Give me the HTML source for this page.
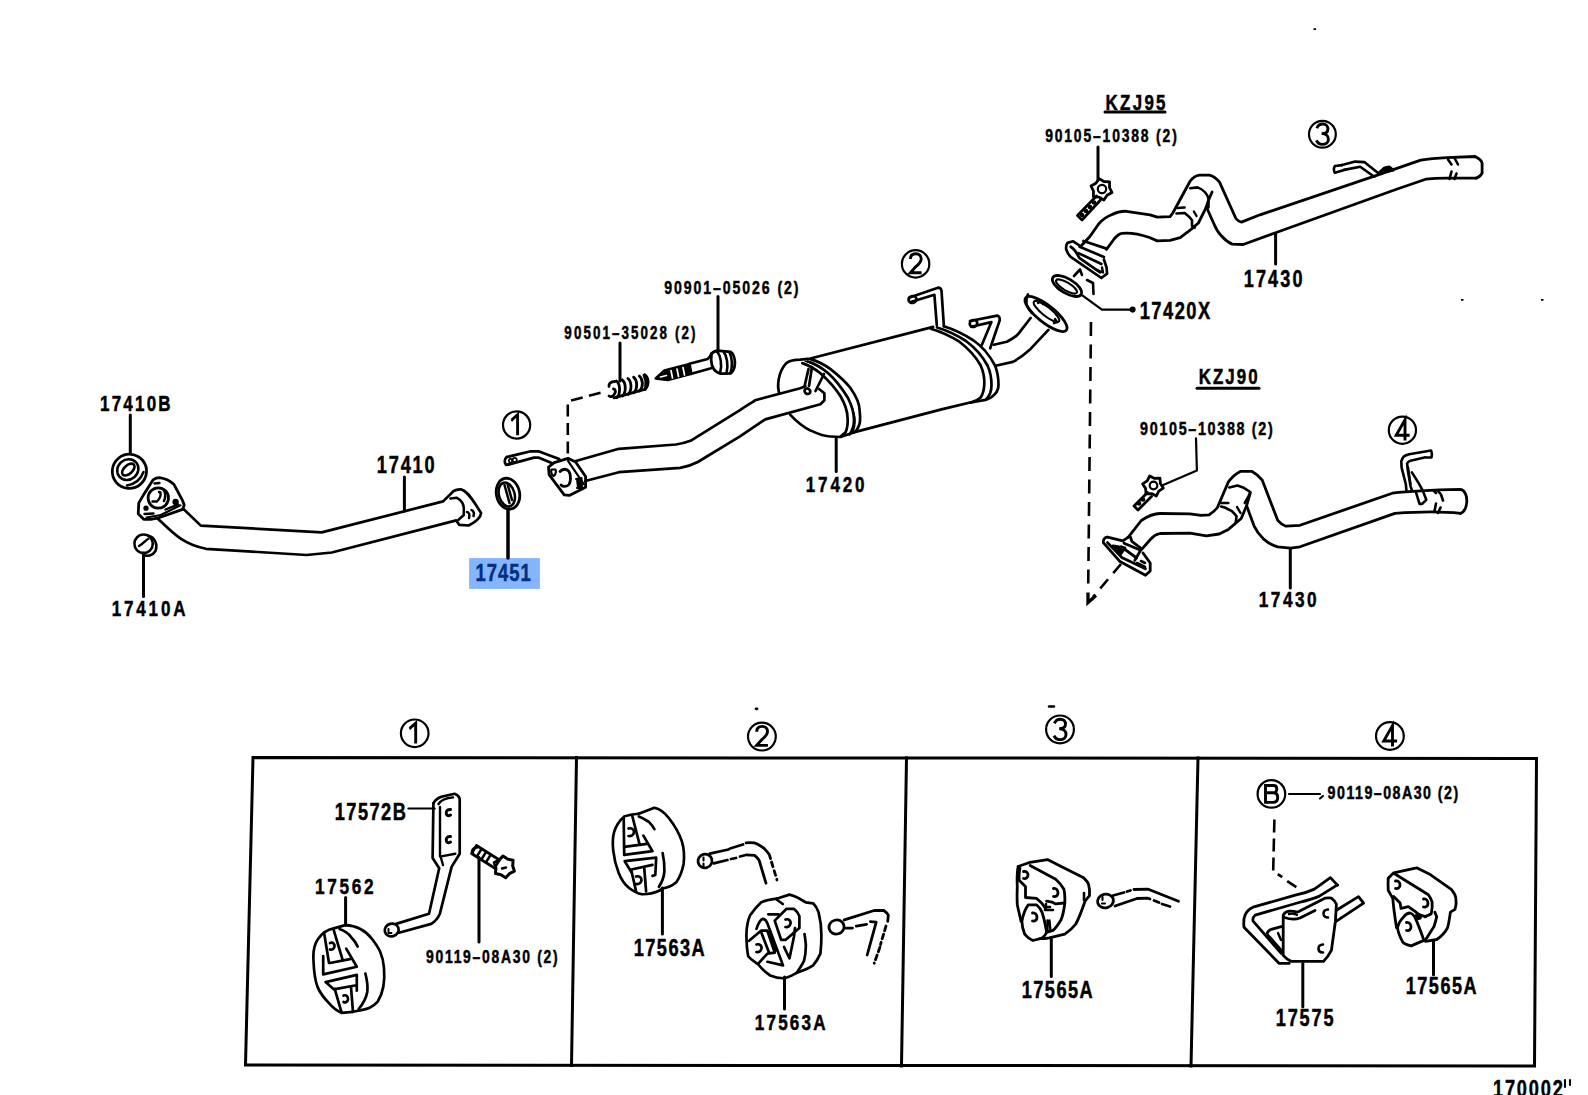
<!DOCTYPE html>
<html><head><meta charset="utf-8"><style>
html,body{margin:0;padding:0;background:#fff;overflow:hidden}
svg{display:block}
text{font-family:"Liberation Sans",sans-serif;font-weight:bold}
</style></head><body>
<svg width="1588" height="1095" viewBox="0 0 1588 1095">
<rect x="0" y="0" width="1588" height="1095" fill="#fff"/>
<rect x="469.1" y="558.1" width="70.8" height="30.8" fill="#85b5ff"/>
<g fill="none" stroke="#000" stroke-width="2.5" stroke-linejoin="round" stroke-linecap="round">
<!-- bottom box -->
<g stroke-width="3" stroke-linecap="square" stroke-linejoin="miter">
<path d="M253,757.5 L1536.5,758.5 L1534.5,1066 L245.5,1065 Z"/>
<path d="M576.5,757.5 L571.5,1065.5"/>
<path d="M906.5,758 L901.5,1066"/>
<path d="M1198,758 L1191,1066"/>
</g>
<!-- leaders -->
<g stroke-width="3">
<path d="M130.3,415 V453.5"/>
<path d="M404.4,477 V511"/>
<path d="M143.5,553 V596.5"/>
<path d="M508,509 V558" stroke-width="3.5"/>
<path d="M718,296.5 V352"/>
<path d="M620,343 V381"/>
<path d="M836.2,437.6 V471.5"/>
<path d="M1098,147 V180"/>
<path d="M1275.6,234 V264"/>
<path d="M1082.3,295.3 L1101.9,309.6 H1132.6" stroke-width="2.2"/>
<path d="M1196,438.4 L1196.9,470.5 L1162,485.6" stroke-width="2.2"/>
<path d="M1290.3,548.6 V588"/>
<path d="M408.4,808.5 H434.7" stroke-width="2.2"/>
<path d="M345.6,897.5 V925"/>
<path d="M479,857.6 V942"/>
<path d="M662.4,888 V934"/>
<path d="M784.5,977 V1009"/>
<path d="M1051.3,937.8 V976.6"/>
<path d="M1289,794 H1320" stroke-width="2.2"/>
<path d="M1302.8,963.6 V1006.8"/>
<path d="M1433.5,941.4 V974.7"/>
</g>
<circle cx="1132.6" cy="309.6" r="1.8" fill="#000"/>
<!-- underlines -->
<path d="M1105,112 H1165" stroke-width="3"/>
<path d="M1197,388.3 H1259" stroke-width="3"/>
<!-- dashed lines -->
<g stroke-width="2.6" stroke-linecap="butt">
<path d="M567.8,453.5 V401.4 L606.5,391.1" stroke-dasharray="12,6.5"/>
<path d="M1091,322 L1088.2,588" stroke-dasharray="14,8.5"/>
<path d="M1121,564 L1093,597" stroke-dasharray="12,8"/>
<path d="M1274.4,819.5 L1273.2,871 L1282.2,877.1 M1287.2,881.1 L1296.3,887.1" stroke-dasharray="13,6"/>
</g>
<path d="M1088,592.5 L1088,602.5 L1096,595.5" stroke-width="3.3" stroke-linejoin="miter" stroke-linecap="butt"/>

<!-- ===== washer 17410B ===== -->
<ellipse cx="129.4" cy="471.3" rx="17.2" ry="17" transform="rotate(-40 129.4 471.3)" stroke-width="2.8"/>
<ellipse cx="127.8" cy="469.6" rx="11" ry="10" transform="rotate(-40 127.8 469.6)"/>
<ellipse cx="128.3" cy="469.6" rx="7.5" ry="4.2" transform="rotate(-42 128.3 469.6)" stroke-width="2.6"/>
<path d="M127,485.5 C135,484 141,479 143.5,472"/>
<!-- flange 17410 -->
<path d="M159.6,477.7 C165,478.5 170,481 173.8,484.2 L182.6,500.7 L184.2,505 L182.6,509.4 L157.4,518.2 L150.8,519.3 L143.7,519.3 L138.2,513.8 L138.8,502.9 L143.7,494.6 L153,479.9 C155,478.5 157,477.7 159.6,477.7 Z" stroke-width="2.8"/>
<path d="M146.5,517.5 L160.7,515 L180.4,505.3" stroke-width="2.2"/>
<path d="M144.5,514 L153.5,513.5 M165.5,509.5 L178,504.5 M154.5,483.5 L159.5,483" stroke-width="2.4"/>
<circle cx="158.3" cy="498" r="10.2" stroke-width="2.8"/>
<path d="M163.5,489.5 C165.5,492 166,497 164,501" stroke-width="2.6"/>
<path d="M152.5,501.5 L157,501.5 C159.5,499 161,495.5 160.5,492.5 L159,492" stroke-width="2.4"/>
<circle cx="146" cy="508.2" r="1.9" fill="#000" stroke-width="1.5"/>
<circle cx="175.6" cy="502" r="2.4" fill="#000" stroke-width="1.5"/>
<!-- nut 17410A -->
<ellipse cx="143.6" cy="543.8" rx="9.2" ry="9.3" stroke-width="2.6"/>
<path d="M148,535.5 C155,537 158,545 155.5,551 C153,555 148,557 143.5,555"/>
<path d="M139,546 C143,544 146,540 148,539"/>
<!-- pipe 17410 -->
<path d="M183,508.5 L200.8,525.6 L321.7,532.4 L443.1,501.4 L453.4,491.2 C456,489.5 458,489.2 461,489.4 C466,490.5 470,496 476,505 L481.1,513.1 C480.5,518.5 475.5,522 468.7,525.5 L459.2,524.8 L456.3,520.4 L331.8,552.5 L306.6,555 L205.9,548.8 C182,544 172,532 157.4,518.2" stroke-width="2.7"/>
<path d="M450.5,498.5 L457,497.8 C460,499.5 463.6,503.5 463.8,508 L463.8,515 L458.5,519.7"/>
<path d="M467,512 c2,0 3,3 2,6 M471.5,510 c2,1 3,3 2,6"/>
<!-- ring 17451 -->
<ellipse cx="508" cy="493.7" rx="11.6" ry="15.6" transform="rotate(-12 508 493.7)" stroke-width="2.8"/>
<ellipse cx="506.8" cy="494.5" rx="7.8" ry="12.2" transform="rotate(-15 506.8 494.5)"/>
<path d="M504.5,485 L509.5,503 M507.5,484 L512,500"/>

<!-- ===== hanger ① rod on pipe 17420 ===== -->
<path d="M506.9,457 L530.9,451.3 L538.4,451.3 L559.2,458.9 M508.2,464.6 L534,457.6 L538.4,457.6 L552.3,463.3" stroke-width="2.7"/>
<path d="M506.9,457 C504.5,458.5 504,462.5 506,464.8 L508.2,464.6" stroke-width="2.7"/>
<ellipse cx="510.5" cy="460.8" rx="1.6" ry="2" stroke-width="1.8"/><ellipse cx="514.7" cy="460" rx="2" ry="2.2" stroke-width="1.8"/>
<!-- flange 17420 -->
<path d="M548.5,467.1 L554.2,462.7 L568,458.3 L575.6,462 L585.6,476.5 L585.6,487.2 L569.3,495.4 L564.2,494.8 L549.1,474.6 Z" stroke-width="2.8"/>
<path d="M568,460.8 L583.8,484.1" stroke-width="2.2"/>
<path d="M560,471.5 C562.5,468.5 567,468.5 569,471.5 C571,475 571,481.5 569,484.5 C567,487 563,487 561,485" stroke-width="2.8"/>
<path d="M551.5,469.5 C550.5,472 552,475.5 553.5,476 C555.5,475 556.5,471.5 555.5,469.5 Z" stroke-width="2.2"/>
<path d="M576,479 L581.5,478 L582,488 L577,488" fill="#000" stroke-width="2"/>
<!-- pipe 17420 front -->
<path d="M575,461.3 L618.9,448.8 L675.9,444.5 C683,443.5 686,442.5 690.5,440.8 L740,410.1 C746,406 752,402.5 755.1,400.3 L800.3,388.2 L805.4,386.2" stroke-width="2.7"/>
<path d="M585.3,481 L618.9,472.2 L680.2,467.8 C689,466.5 693,464.5 697.8,462 L740,436.4 L765.2,419.4 L820.4,404.3 L824.4,400.3 L824.4,393.2 L819.4,389.2" stroke-width="2.7"/>
<!-- spring 90501 -->
<g stroke-width="2.8">
<path d="M616.5,381.0 C620.3,384.0 620.8,393.8 616.8,397.8 M622.2,379.8 C626.0,382.8 626.5,392.1 622.5,396.1 M627.9,378.5 C631.7,381.5 632.2,390.4 628.2,394.4 M633.6,377.2 C637.4,380.2 637.9,388.7 633.9,392.7 M639.3,376.0 C643.1,379.0 643.6,387.0 639.6,391.0 M645.0,374.8 C648.8,377.8 649.3,385.3 645.3,389.3"/>
<path d="M615,381.5 C610.5,381.5 608.5,384 609,386.5 M613.5,389 C615,389 616,391 615,393 C613.5,396.5 611,397.5 609,396" />
<path d="M614,397.8 L645.5,389.2 L645.8,381 L644,375"/>
</g>
<!-- bolt 90901 -->
<path d="M655.6,378.5 L664.4,370.4 L689.5,363.8 L691.5,373.8 L667.9,380.1 Z" fill="#000" stroke-width="2.4"/>
<path d="M671,370.5 l1.5,7.5 M677,369 l1.5,7.5 M683,367.5 l1.5,7.5 M660.5,377 l6,-1.5" stroke="#fff" stroke-width="1.7"/>
<path d="M689.5,363.8 L707.6,359 C709.5,357.5 710.8,355.5 711.5,353.5 M691.5,373.8 L711.1,368.2" stroke-width="2.7"/>
<path d="M711.5,354 C713,351.5 716,350.5 720,350.8 L730.5,351.8 C733.5,353.5 735,359 734.9,363.5 C734.7,368.5 733.5,371.5 730.5,373.3 L721,373.6 C716.5,373 713.5,369.5 712,365.5 C711,361.5 711,357 711.5,354 Z" stroke-width="2.8"/>
<path d="M717,351.5 C720.5,355.5 722.5,364 720,373.3 M723.5,351.5 C727,356 728.5,365 726.5,373.5 M729.5,352.5 C732.5,358 732.5,367 730.5,373" stroke-width="2.6"/>

<!-- ===== muffler 17420 ===== -->
<g stroke-width="2.7">
<path d="M779.2,393.2 C777,386 778,372 786.3,363.1 C790,360.5 795,359.6 800.3,359.6 L810.4,358.5 L933.2,326.9"/>
<path d="M790.3,414.9 C797,422 805,428 810.4,430.4 C818,434 826,436.5 830.5,436.5 L840.5,437 L853.6,432.4 L941.5,409.4 L971.2,402.3"/>
<path d="M802.3,363.1 C808,365 815,369 820.4,373.2 C828,380 836,389 840.5,396.3 C845,404 847.6,412 847.6,418.4 C848,424 847,429 845.5,432.4 L840.5,436.5"/>
<path d="M808,361.5 C815,363.5 822,368 828,373 C836,380 843,390 848,398 C852,406 854,414 854,420 C854,426 852,431 849.5,434.5"/>
<path d="M810.4,359.1 C817,361 825,365 830.5,369.1 C838,375 845,381 850.6,388.2 C856,396 859.6,404 859.6,410.3 C860.5,418 860,424 858.6,426.4 C857,430 855,432 853.6,432.4"/>
<path d="M805,361 C812,363 819,367 825,371 C834,378 841,386 846,394 C851,403 854,411 855,418 C855.5,425 854,430 852,433" stroke-width="1.4"/>
<path d="M808.5,369 L804.5,386.5 M812,367 L809,386" />
<path d="M824,374 L815.5,391"/>
<ellipse cx="807.4" cy="391.2" rx="3" ry="2.6" transform="rotate(35 807.4 391.2)"/>
<!-- right end bands -->
<path d="M930.9,328.7 C942,332 952,337 959.4,341.7 C969,349 976,357 980.7,365.5 C984,373 984.5,380 984.3,384.5 C984,390 983,394 980.7,397.5 C978,400 975,401.5 971.2,402.3"/>
<path d="M937,327.5 C949,331 959,336.5 966,341 C976,348.5 983,357 987.5,365.5 C991,373 991.5,380 991.5,385 C991.5,391 989.5,396 986,399.5"/>
<path d="M943.9,326.3 C954,329.5 965,335 973.6,340.5 C983,347 990,356 995,365.5 C998,373 998.5,379 998.5,384.5 C998.5,389 997,392 995,394 C992.5,397 989,399 985.5,399.9 L971,402.5"/>
<!-- hangers on muffler -->
<path d="M908.9,297.8 L938,287.7 C940,287.5 941,289 941.5,290.7 L943.9,326.3 M910.7,302 L934.4,294.8 L936.8,325.1"/>
<ellipse cx="912.5" cy="299.5" rx="4" ry="3.4" transform="rotate(-20 912.5 299.5)"/>
<path d="M970,321 L997.3,315.6 C999,315.8 1000,318 999.7,320.4 L990.2,348.3 M971.2,326.8 L991.4,322.1 L981.9,344.7"/>
<ellipse cx="973.5" cy="323.5" rx="3.8" ry="3.4" transform="rotate(-20 973.5 323.5)"/>
<!-- outlet pipe -->
<path d="M993.8,344.7 L1006.8,341.7 C1012,339 1016,337 1018.7,333.4 L1030.6,318"/>
<path d="M996.7,365.5 L1012.8,361.9 C1020,358 1026,353 1030.6,348.9 L1048.4,329.9"/>
<ellipse cx="1046" cy="314" rx="26" ry="8.5" transform="rotate(38.5 1046 314)" stroke-width="2.8"/>
<path d="M1028,294.5 C1025,300 1026,307 1032,313"/>
<ellipse cx="1046.5" cy="311.5" rx="16" ry="4.5" transform="rotate(38.5 1046.5 311.5)" stroke-width="2.1"/>
<path d="M1038,303 l4,-2 l1,3 M1055,319 l2,3 l-3,1" stroke-width="2.4"/>
</g>

<!-- ===== gasket 17420X ===== -->
<ellipse cx="1067" cy="286" rx="16.5" ry="7.2" transform="rotate(31 1067 286)" stroke-width="2.8"/>
<ellipse cx="1066.5" cy="286.5" rx="12" ry="4" transform="rotate(31 1066.5 286.5)" stroke-width="2.1"/>
<path d="M1074,276 L1080,269.5 L1082,275 M1087,280 L1093,283 L1093.5,294" stroke-width="2.6"/>

<!-- ===== KZJ95 bolt ===== -->
<path d="M1112.0,192.6 L1107.1,195.3 L1103.9,200.0 L1099.1,197.1 L1093.4,196.8 L1093.5,191.1 L1091.0,186.0 L1095.9,183.3 L1099.1,178.6 L1103.9,181.5 L1109.6,181.8 L1109.5,187.5 Z" stroke-width="2.8" stroke-linejoin="round"/>
<circle cx="1102" cy="189" r="4.2" stroke-width="2.2"/>
<path d="M1096.5,196 L1077.5,215.5 L1082,220 L1100.5,200" stroke-width="2.8"/>
<circle cx="1094" cy="202.5" r="1.1"/><circle cx="1090" cy="207" r="1.1"/><circle cx="1086" cy="211" r="1.1"/><circle cx="1082" cy="215" r="1.1"/>
<!-- KZJ95 flange -->
<g stroke-width="2.7">
<path d="M1080.9,246.5 L1073.2,241.3 L1067.5,242.9 C1066,245 1066,247.5 1066.2,249.3 C1067,252 1068.5,254.5 1070.7,256.9 L1101.4,278 L1107.1,273.6 L1106.5,267.2 L1103.9,259.5"/>
<path d="M1070.7,246.7 C1073,248 1074.5,250 1075.8,251.8 L1079.6,258.2 L1100.1,272.3"/>
<path d="M1083.5,241 L1106.5,248.6 M1079.6,246.7 L1103.9,256.9 M1078.4,253.1 L1101.4,264"/>
<path d="M1097,270 l6,2.5 l-1,-5" stroke-width="2.4"/>
</g>
<!-- pipe 17430 KZJ95 -->
<path d="M1081.5,245.5 L1089.9,236.5 L1098.8,223.7 C1103,219 1107,216.5 1111.6,214.7 C1117,212 1122,211 1126.4,211.3 L1150,214.8 L1157.3,217.1 L1170.1,216.6 L1172.8,213 L1190.2,181 C1193,177.5 1196,175.5 1199.3,175.1 L1209.4,175.1 C1213,176 1216.5,178.5 1219.4,181.9 L1235.9,218.5 C1237.5,220.5 1239.5,221.8 1241.4,222.1 L1260,214.8 L1377.4,175.2 L1420.7,160.1 C1430,158.5 1438,158 1446.9,157.6 L1475.1,156.5 C1479,158.5 1481.5,160.5 1482.1,163.1 L1482.1,173.2 C1480.5,176 1478.5,177.5 1476.1,178.2" stroke-width="2.8"/>
<path d="M1106.5,249.3 L1114.1,239 C1117,235.5 1119,233.5 1121.8,233.3 C1135,232 1145,236 1150,237.7 L1157.3,240.9 L1170.1,240.4 L1180.2,237.7 L1191.1,229.4 L1198.4,223 L1205.7,208.4 L1208.5,200.2 L1212.1,192" stroke-width="2.8"/>
<path d="M1176.5,213.5 L1184.7,213 C1188,215.5 1190.5,218 1192,220.2 L1192,225.8 L1194.8,227.6" stroke-width="2.6"/>
<path d="M1190.2,188.3 L1197.5,187.4 C1200.5,188.5 1203,190 1204.8,192 C1206.5,194 1207.8,196 1208.5,198.4 L1208.5,207.5" stroke-width="2.6"/>
<path d="M1206.6,207.5 L1214,224 C1216,229 1218.5,233 1221.3,235.8 C1225,240 1228.5,242.5 1232.2,244.1 L1243.2,244.5 L1275.6,232.8 L1396.5,189.3 L1425.7,179.2 C1432,178.5 1440,178.2 1446.9,178.2 L1476.1,178.2" stroke-width="2.8"/>
<path d="M1177.4,208 L1184.7,207.5 M1193.9,211.5 L1196.5,216" stroke-width="2.4"/>
<path d="M1448,159.5 L1451.5,164.5 M1454.5,158 L1458,164.5 M1451.5,171.5 L1449.5,179 M1456.5,173.5 L1454.5,179" stroke-width="2.6"/>
<path d="M1342.1,165.1 L1355.2,161.6 L1364.3,162.1 L1378.4,173.2 M1344.1,169.9 L1360.2,166.8 L1374.3,176.7" stroke-width="2.6"/>
<path d="M1342.1,165.1 L1335,166 C1333.5,167.5 1333.5,171 1335,172.8 L1344.1,169.9" stroke-width="2.6"/>
<path d="M1378.4,173.2 L1384.4,167.6 L1389.4,166.6 L1393.5,170.2 Z" fill="#000" stroke-width="2.4"/>

<!-- ===== KZJ90 bolt ===== -->
<path d="M1163.3,488.1 L1158.8,491.2 L1156.3,496.0 L1151.5,493.6 L1146.0,493.9 L1145.6,488.5 L1142.7,483.9 L1147.2,480.8 L1149.7,476.0 L1154.5,478.4 L1160.0,478.1 L1160.4,483.5 Z" stroke-width="2.8" stroke-linejoin="round"/>
<circle cx="1153.5" cy="485.5" r="3.8" stroke-width="2.2"/>
<path d="M1147.5,492.5 L1134,506 L1138,510 L1151.5,496.5" stroke-width="2.8"/>
<circle cx="1143" cy="499.5" r="1.1"/><circle cx="1139" cy="503.5" r="1.1"/>
<!-- KZJ90 flange -->
<g stroke-width="2.8">
<path d="M1107.5,537.2 C1105,537 1103,539.5 1103.3,542.6 L1120,561.6 L1145.5,575.2 L1150.2,571 L1150.2,563 L1143,553"/>
<path d="M1107.5,537.2 L1122.9,540.8 L1128.3,537.2"/>
<path d="M1107.5,542.6 L1121.7,557.4 L1145.5,568.7"/>
<path d="M1130.5,537.2 L1131.8,541.4 L1141.3,548.5 L1138.9,553.3 L1134.8,560.4"/>
<path d="M1124,543.2 L1140.7,550.3 M1121.1,546.7 L1136.6,558"/>
<path d="M1113,546 L1120,555 L1125,548 Z" fill="#000"/>
<path d="M1137,563 l8,4 M1141,561 l4,2" stroke-width="2.6"/>
</g>
<!-- pipe 17430 KZJ90 -->
<path d="M1128.3,537.2 L1141.3,520.5 C1148,516 1154,513.5 1160,513.5 L1190,513.9 L1201,515.3 L1209.2,514.8 C1213,512.5 1215.5,510 1217.4,507.5 L1228.4,481.9 C1232,477 1236,473.5 1240.3,471.4 L1252.1,471.4 C1256,473.5 1259.5,476.5 1262.2,480.1 L1277.7,520.3 C1280,523 1283,525 1285.9,526.2 L1300,525.3 L1392.3,493.2 C1410,491 1430,490 1460.4,489.4 C1465,490 1467,496 1466.8,501.5 C1466.5,507 1464,512 1460.4,513.4" stroke-width="2.8"/>
<path d="M1141.9,549.1 L1150.8,539 C1153,536.5 1155,534.5 1160,533.5 L1190,533.1 L1206.4,535.8 L1219.2,534 L1228.4,529.4 L1241.2,518.5 L1246.6,505.7 L1250.3,492.9" stroke-width="2.8"/>
<path d="M1221.1,506.6 L1224.7,507.5 L1232,511.2 C1234,513 1235.5,515 1236.6,516.6 L1235.7,522.1" stroke-width="2.6"/>
<path d="M1229.3,487.4 L1237.5,485.6 L1243,487.4 L1250.3,492 L1248.5,496.5 L1244.8,502.9" stroke-width="2.6"/>
<path d="M1246.6,505.7 L1254,525.8 C1256.5,531 1259.5,535 1263.1,538.6 C1267.5,542.5 1272.5,545.5 1277.7,546.8 L1290.5,548.2 L1300,546.8 L1394.9,513.4 C1420,511.5 1440,511 1460.4,513.4" stroke-width="2.8"/>
<path d="M1221,503 L1228.4,503 M1237,507 L1240.5,513" stroke-width="2.4"/>
<path d="M1433.5,490.5 L1436,493 M1438,491 L1441,494.5 L1443,500.5 M1436,503.5 L1434.5,511 M1440.5,507.5 L1438,513" stroke-width="2.6"/>
<path d="M1431.1,450.5 L1409.2,454.2 C1406,455 1404.5,456 1403.7,456.6 C1402.5,458 1401.8,459.5 1401.3,461.4 L1401.6,467.6 L1405.8,484 L1406.4,490.2 M1425.6,457.3 L1410.5,460.8 C1408.5,461.5 1407.5,462.5 1407.1,463.5 L1407.8,470.3 L1410.5,486.1 L1411.9,490.2 M1431.1,450.5 C1432,452.5 1432,455.5 1431.5,457.5 L1425.6,457.3 M1411.9,472.4 L1418.8,483.4 L1422.9,490.9 L1426.3,499.8 L1422.2,503.9 L1419.5,503.9 L1416,492.3" stroke-width="2.6"/>
<path d="M1408.5,467 L1411,484" stroke-width="1.4"/>

<!-- ===== PANEL 1 ===== -->
<g stroke-width="2.7">
<path d="M433.4,803.3 C435,800 438,798 441.4,796.7 L454.6,793.8 C457,794.5 459,796.5 459.7,798.9 L459.7,853.7 L451.6,866.9 L439.9,913.7 C438,918 435,921.5 431.2,923.9 L399,932.7"/>
<path d="M433.4,803.3 L432.6,858.1 L439.2,868.3 L429,913.7 L396.1,923.9"/>
<path d="M438.5,804 C441,800 446,798 453.1,797.4 M440,807 L440,856.6 L455.3,853.7 M441,858 L443,865" stroke-width="2.4"/>
<path d="M450.5,809.5 C447,809 445.5,812 446.5,814.5 C447.5,816 449,816 450.5,815 M450.5,836.5 C447,836 445.5,839 446.5,841.5 C447.5,843 449,843 450.5,842" stroke-width="3"/>
<ellipse cx="391.7" cy="930" rx="7" ry="6.3" transform="rotate(-15 391.7 930)"/>
<path d="M388.5,929 v4 h3" stroke-width="2"/>
<!-- bolt 90119 -->
<path d="M476.5,845.5 L499.5,860 L494.5,868 L471.5,853.5 Z"/>
<path d="M477,847.5 C473,847 471,851 473,853.5" stroke-width="2.6"/>
<path d="M481.5,849 l-4,6.5 M486,852 l-4,6.5 M490.5,855 l-4,6.5" stroke-width="2.4"/>
<path d="M514.4,871.2 L509.4,873.7 L505.7,877.8 L501.0,874.7 L495.5,873.5 L495.9,867.9 L494.2,862.6 L499.2,860.1 L502.9,856.0 L507.6,859.1 L513.1,860.3 L512.7,865.9 Z" stroke-width="3" stroke-linejoin="round"/>
<path d="M502,868.5 l4,-1" stroke-width="2.4"/>
</g>
<g stroke-width="2.7">
<!-- grommet 17562 -->
<path d="M333.8,928.4 L345.3,925.1 C356,925.5 366,931 372.1,939 C379,948 383,955 384,968 C385,980 383,993 377.9,1001.3 C372,1008 367,1009 362.5,1009.9 L352.9,1011.8"/>
<path d="M333.8,928.4 C330,929 327,930.5 324.2,932.3 C320,936 317,940 315.5,943.8 C313,950 313,956 313.6,963 C314,972 315,980 317.5,986.9 C321,995 325,999 329,1003.2 C333,1008 337,1011 341.4,1012.8 L352.9,1011.8"/>
<path d="M324.2,933.2 L329,963 M333.8,930.3 L342.4,959.1 M330,963 L350,959.1"/>
<path d="M323.2,956.2 V974.4 L356.8,966.8 L346.2,948.6"/>
<path d="M325.6,982.1 L356.8,974.9 V990.7 M325.6,982.1 L333.8,989.3 L354.9,985.5"/>
<path d="M334.7,988.8 L341.4,1011.8 M351,987 L352.9,1010.9"/>
<path d="M330,943 C333,942 335,944 334.5,946.5 C334,949 332,950 330,949.5 M343.5,995.5 C346.5,994.5 348.5,997 348,999.5 C347.5,1002 345.5,1003 343.5,1002"/>
<path d="M339.5,929 C345,931 349,934 351,937 C354,940 356,943 357.7,946.6"/>
<path d="M365.4,973.5 C367,980 368,986 367.3,991.7 C366,999 362,1005 358.7,1009"/>
</g>

<!-- ===== PANEL 2 ===== -->
<g stroke-width="2.7">
<path d="M638.8,813.7 L654.4,807.8 C660,809 665,813 669,818.3 C675,826 679,833 681.8,841.1 C684,848 684.5,856 683.6,864 C682,872 680,877 676.3,882.3 C672,886 667,888 661.7,888.7 L659.8,890.5"/>
<path d="M638.8,813.7 C633,814.5 628,815 624.2,816.5 C619,821 616,826 614.1,832 C612.5,838 612.5,844 613.2,850.3 C614,858 616,866 618.7,873.1 C621,879 624,884 628.8,887.8 C633,891 637,893.5 641.6,894.2 C648,894.5 654,893 659.8,890.5"/>
<path d="M623.7,818.3 L624.2,854.8 M632.4,816.5 L639.7,844.8 M626,846.6 L647,843.9"/>
<path d="M624.2,854.8 L652.5,851.2 L643.4,835.6"/>
<path d="M624.7,861.2 L656.2,857.6 L655.3,875 L652.5,875.9 M624.7,861.2 L631.5,872.2 M631.5,869.5 L652.5,864.9"/>
<path d="M631.5,871.3 L636.1,891.4 M644.3,868.6 L646.1,891.4"/>
<path d="M628.5,828.5 C632,827.5 634.5,830 634,832.5 C633.5,835 631,836.5 628.5,836 M636,876.5 C639.5,875.5 642,878 641.5,880.5 C641,883 638.5,884.5 636,884"/>
<path d="M638.8,816.5 C643,818 646,820 648.9,821.9 C651,824 653,826.5 654.4,829.2"/>
<path d="M662.6,853 C664,859 664.5,865 664.4,871.3 C664,877 662,882 658.9,886.8"/>
<!-- grommet 2b -->
<path d="M776.6,898.7 L789.4,894.6 C795,895.5 800,899 805.8,902.4 L813.1,903.3 C816,906 817.5,909 818.6,912.4 C820.5,920 821.5,928 821.4,935.3 C821.5,942 821,948 820.4,953.6 C818,959 816,962 813.1,965.4 C808,969 802,971 796.7,972.8"/>
<path d="M776.6,898.7 C771,899.5 765,900.5 761,902.4 C756,907 753,911 750.1,915.2 C747.5,921 746.5,928 746.4,935.3 C746.5,943 747,950 748.2,956.3 C751,960 755,962 758.3,964.5 C762,969 766,973 770.2,975.5 C775,977.5 780,978.5 784.8,978.2 C789,977 793,975 796.7,972.8 C800,968 802,965 804,960.9 C805.5,955 806,950 805.8,944.4 C805.5,940 805,937 804.5,934"/>
<path d="M774.7,920.6 L786.6,908.8 L793.9,908.8 C797,911 798.5,913.5 799.4,916.1 L799.4,928 L785.7,939.8 L781.1,939.8 Z"/>
<path d="M749.1,940.8 L761,930.7 L767.4,930.7 L774.7,952.6 L767.4,953.6 L758.3,963.6"/>
<path d="M756.5,928.9 C758,924 760,920 762.9,918.8 C765,919 766.5,921 767.4,923.4 L783,965.4 L767.4,961.8"/>
<path d="M761.5,933 L769,952.5 M770.2,931.5 L775.6,950.6"/>
<path d="M784,947 L789.5,958.3 L794,936.5 L795,928"/>
<path d="M768.3,914.3 L778.5,914.3 M776.6,899.5 L782.8,904"/>
<path d="M785.5,919.5 C789,918.5 791,921 790.5,923.5 C790,926 788,927.5 785.5,927 M756.5,944.5 C760,943.5 762,946 761.5,948.5 C761,951 759,952.5 756.5,952"/>
</g>
<g stroke-width="2.7">
<!-- rod 1 -->
<ellipse cx="705" cy="861" rx="7" ry="6.8" transform="rotate(-15 705 861)" stroke-width="2.8"/>
<path d="M703.5,857.5 v3 M703.5,863.5 v3" stroke-width="2.1"/>
<path d="M709.8,853.7 L728.5,849.5 M730,848.5 L743,844.5 M746.1,842.9 C749,842.5 752,842.5 754.1,842.9 C757,843.5 760,845.5 763.7,848 C766,850.5 768,852.5 769.4,854.8 L770.5,858.5" stroke-width="2.8"/>
<path d="M771.5,862 L777,880" stroke-width="2.8" stroke-dasharray="5,4"/>
<path d="M713.8,863.3 L727.4,860 M731,859 L736,858 M740,856.5 L744,855.5 M746.1,854.8 L754.6,855.4 C756.5,857 758,858.5 759.2,860.5 L766,883.2" stroke-width="2.8"/>
<!-- rod 2 -->
<ellipse cx="836.5" cy="927" rx="7.6" ry="7" transform="rotate(-15 836.5 927)" stroke-width="2.8"/>
<path d="M844.2,919.8 L874.2,910.5 L883.8,910.5 C886,912 887.5,913.5 888.3,915.3 L887.7,921.4" stroke-width="2.8"/>
<path d="M886,926 L880.5,944.5 M880,947 L874.2,963.3" stroke-width="2.8" stroke-dasharray="5,3.5"/>
<path d="M845.5,928.1 L852.5,928.1 M856.3,926.2 L866.6,924.3 M870.4,921.7 L876.2,922.1 L867.2,955" stroke-width="2.8"/>
</g>

<!-- ===== PANEL 3 ===== -->
<g stroke-width="2.8">
<path d="M1018.2,866.5 L1030.1,862.3 L1047.5,859.6 L1061.2,866.5 L1083.1,877.4 C1086,880 1088,882 1088.6,884.7 C1089.5,888 1089.8,892 1089.5,895.7 L1085,901.2 C1082,910 1079,918 1075.8,924 C1072,929 1068,932 1064.8,934.1 L1049.3,937.8 L1044.7,938.7 L1040.2,938.7"/>
<path d="M1018.2,866.5 C1017,872 1017,880 1017.3,886.6 C1017,893 1017,899 1017.3,904.8 C1018.5,911 1020,916 1021,921.3"/>
<path d="M1030.1,865.5 L1055.7,879.3 C1060,883 1062,886 1063.9,889.3 C1065,894 1065,898 1064.8,903 C1064,910 1063,915 1061.2,919.5 C1058,925 1056,928 1053,930.4 L1046.6,932.3"/>
<path d="M1020,868.3 C1019,872 1019,876 1019.1,880.2 L1025.5,886.6 L1025.5,897.5 L1036.5,898.4 C1040,901 1043,904 1045.6,908.5"/>
<path d="M1046.6,901.2 L1052,902.1 L1055.7,903.9 L1063.9,903"/>
<path d="M1046,904 L1045,910 L1053,910 M1046,907 l4,0" stroke-width="2.6"/>
<path d="M1028.3,904.8 L1036.5,904.8 C1039,907 1041,909.5 1042,912.2 C1044,918 1045.5,925 1046.6,932.3 C1045,936 1043,938 1040.2,938.7 L1032.9,940.5 C1029,939 1027,937 1024.6,934.1 C1023,930 1022,926 1021.9,921.3 C1023,915 1025,909 1028.3,904.8 Z"/>
<path d="M1023.5,871.5 C1026.5,871 1028,873 1028,875 C1028,877.5 1026,879 1023.5,878.5 M1053.5,888.5 C1056.5,888 1058,890.5 1058,893 C1058,895.5 1056,897 1053.5,896.5 M1032.5,913 C1035.5,912.5 1037,915 1037,917.5 C1037,920 1035,921.5 1032.5,921"/>
<path d="M1047.5,920.5 L1047.5,931 M1049.5,920.5 L1050.5,931" stroke-width="2.4"/>
<path d="M1084,893 L1084,900" stroke-width="2.6"/>
<!-- rod 3 -->
<ellipse cx="1105.5" cy="901" rx="8" ry="6.8" transform="rotate(-15 1105.5 901)"/>
<path d="M1102.5,897 v3 M1102,903.5 h3" stroke-width="2.1"/>
<path d="M1113,895.5 L1124,892.5 M1127,891.5 L1130.5,890.5 M1134,889.5 L1148.3,889.2 L1178.5,901.3"/>
<path d="M1115,906 L1137,898.5 L1148,898.2 L1150,899 M1154,900.5 L1159,902.5 M1162,904 L1170,906.5" />
</g>

<!-- ===== PANEL 4 ===== -->
<g stroke-width="2.8">
<!-- bracket 17575 -->
<path d="M1337.5,885.1 L1330.4,877.6 L1314.4,889.1 C1308,892 1302,894 1295.3,895.1 L1253.1,907.2 C1249,909 1246.5,911.5 1245,915.2 C1243.5,919 1243.5,923 1244,927.3 L1279.2,963.4 L1289.2,963.4"/>
<path d="M1337.5,885.1 L1335.4,886.1 L1319.4,896.1 C1313,899 1305,901 1299,902.5 L1255.1,915.2 C1253,917 1252.5,919 1253.1,921.2 L1281.2,953.4"/>
<path d="M1283.2,915.2 C1284.5,912.5 1286.5,911.5 1289.2,911.2 C1292,911 1295,911.5 1297.3,912.2 L1325.4,898.1 C1327.5,897.8 1329.5,897.8 1331.4,898.1 C1334,900 1335.5,902 1336.4,904.2 L1335.4,921.2 L1331.4,950.4 C1329,955 1326.5,958.5 1323.4,961.4 L1291.2,961.4 C1288,960 1285.5,958 1283.2,955.4 Z"/>
<path d="M1284.5,917.5 C1290,919.5 1296,919.5 1300,918 L1315,910.5"/>
<path d="M1289,914 C1292,913 1296,914 1297,915" stroke-width="2.4"/>
<path d="M1336.4,910.2 L1358.5,896.6 L1363.6,903.2 L1336.4,921.2"/>
<path d="M1267.1,933.3 C1268.5,930.5 1270,929.5 1271.2,929.3 L1282.2,926.3 M1268.1,935.3 L1282.2,951.4"/>
<path d="M1278,933 L1281,940" stroke-width="2.4"/>
<path d="M1328,909.5 C1325,909.5 1323.5,911.5 1323.5,913.5 C1323.5,916 1325.5,917.5 1328,917.5 M1323,944.5 C1320,944.5 1318.5,946.5 1318.5,948.5 C1318.5,951 1320,952.5 1323,952.5" stroke-width="2.6"/>
<!-- mount 17565A panel4 -->
<path d="M1388.2,878.3 L1393.7,872.8 L1416.6,867.8 L1430.3,874.6 L1451.3,889.3 C1454,892.5 1455.5,895 1455.9,898.4 C1456.5,902 1456,906 1455,909.4 L1450.4,912.1 C1449.5,918 1449,923 1447.6,927.6 C1445,933 1441,936.5 1436.7,939.5 L1425.7,941.4"/>
<path d="M1388.2,878.3 C1388,882 1388,886 1388.2,890.2 L1392.8,898.4 C1393.5,908 1395,918 1396.5,927.6"/>
<path d="M1394.6,873.7 L1428.4,894.7 C1430,897 1431.5,899.5 1432.1,902 C1432.5,906 1432,910 1431.2,913.9 L1424.8,916.7"/>
<path d="M1393.7,896.6 L1400.1,903 L1401,908.4 L1408.3,906.6 L1414.7,911.2 L1419.3,914.8 L1425.7,916.7"/>
<path d="M1434.8,912.1 L1436.7,916.7 C1436,920 1435,923.5 1433.9,926.7 C1431,931 1428.5,935.5 1425.7,939.5"/>
<path d="M1403.8,916.7 C1405.5,914.5 1408,913 1410.2,913 C1412,913.5 1413.5,915 1414.7,916.7 C1418,924 1421,932 1423.9,940.4 L1411.1,945.9 C1407,945 1404.5,944 1402.9,942.3 C1400,937 1398,932 1397.5,927.6 C1398.5,923 1401,919.5 1403.8,916.7 Z"/>
<path d="M1395.5,881 C1398.5,880.5 1400,882.5 1400,885 C1400,887.5 1398,889 1395.5,888.5 M1423.5,899 C1426.5,898.5 1428,901 1428,903.5 C1428,906 1426,907.5 1423.5,907 M1406.5,922.5 C1409.5,922 1411,924.5 1411,927 C1411,929.5 1409,931 1406.5,930.5"/>
<circle cx="1418.4" cy="916.5" r="2.2" fill="#000"/>
</g>
<!-- stray marks -->
<path d="M1313.5,29.2 h2.5 M1461,299.9 h2.5 M1541,299.9 h2.5" stroke-width="1.8" stroke-linecap="butt"/>
<path d="M1320,798.5 l3,-2.5" stroke-width="2.1"/>
<path d="M756,708.8 h1" stroke-width="2.8"/>
<path d="M1049,706.5 h5" stroke-width="2.4"/>
<path d="M1565,1080 v7 M1570,1080 v5" stroke-width="2.1"/>

</g>
<circle cx="516.6" cy="425.0" r="13.6" fill="none" stroke="#000" stroke-width="2.2"/><g transform="translate(516.6,425.0)" fill="none" stroke="#000" stroke-width="2.9" stroke-linejoin="miter" stroke-linecap="butt"><path d="M-5,-5 L1,-10.2 L1,10.3 M-4.8,-5.6 L-3.5,-4.3"/></g><circle cx="915.6" cy="263.9" r="13.7" fill="none" stroke="#000" stroke-width="2.2"/><g transform="translate(915.6,263.9)" fill="none" stroke="#000" stroke-width="2.9" stroke-linejoin="miter" stroke-linecap="butt"><path d="M-5.2,-4.8 C-5.2,-8.4 -2.8,-10.2 0.3,-10.2 C3.6,-10.2 5.6,-8 5.6,-5 C5.6,-2 3.6,0 0,3 L-5.2,8.8 L6,8.8"/></g><circle cx="1322.4" cy="134.2" r="13.4" fill="none" stroke="#000" stroke-width="2.2"/><g transform="translate(1322.4,134.2)" fill="none" stroke="#000" stroke-width="2.9" stroke-linejoin="miter" stroke-linecap="butt"><path d="M-5.6,-6 C-4.5,-8.8 -2.2,-10.2 0.4,-10.2 C3.6,-10.2 5.5,-8 5.5,-5.3 C5.5,-2.3 3,-0.6 -0.8,-0.6 M-0.8,-0.6 C3.4,-0.6 6,1.6 6,5 C6,8.4 3.4,10.2 0,10.2 C-3,10.2 -5,8.6 -6,6.2"/></g><circle cx="1402.4" cy="430.2" r="13.6" fill="none" stroke="#000" stroke-width="2.2"/><g transform="translate(1402.4,430.2)" fill="none" stroke="#000" stroke-width="2.9" stroke-linejoin="miter" stroke-linecap="butt"><path d="M2.6,10.4 L2.6,-10.4 L-6.2,5 L7.2,5"/></g><circle cx="414.7" cy="733.3" r="13.8" fill="none" stroke="#000" stroke-width="2.2"/><g transform="translate(414.7,733.3)" fill="none" stroke="#000" stroke-width="2.9" stroke-linejoin="miter" stroke-linecap="butt"><path d="M-5,-5 L1,-10.2 L1,10.3 M-4.8,-5.6 L-3.5,-4.3"/></g><circle cx="761.9" cy="736.6" r="13.9" fill="none" stroke="#000" stroke-width="2.2"/><g transform="translate(761.9,736.6)" fill="none" stroke="#000" stroke-width="2.9" stroke-linejoin="miter" stroke-linecap="butt"><path d="M-5.2,-4.8 C-5.2,-8.4 -2.8,-10.2 0.3,-10.2 C3.6,-10.2 5.6,-8 5.6,-5 C5.6,-2 3.6,0 0,3 L-5.2,8.8 L6,8.8"/></g><circle cx="1060.0" cy="729.4" r="13.9" fill="none" stroke="#000" stroke-width="2.2"/><g transform="translate(1060.0,729.4)" fill="none" stroke="#000" stroke-width="2.9" stroke-linejoin="miter" stroke-linecap="butt"><path d="M-5.6,-6 C-4.5,-8.8 -2.2,-10.2 0.4,-10.2 C3.6,-10.2 5.5,-8 5.5,-5.3 C5.5,-2.3 3,-0.6 -0.8,-0.6 M-0.8,-0.6 C3.4,-0.6 6,1.6 6,5 C6,8.4 3.4,10.2 0,10.2 C-3,10.2 -5,8.6 -6,6.2"/></g><circle cx="1389.9" cy="736.0" r="13.9" fill="none" stroke="#000" stroke-width="2.2"/><g transform="translate(1389.9,736.0)" fill="none" stroke="#000" stroke-width="2.9" stroke-linejoin="miter" stroke-linecap="butt"><path d="M2.6,10.4 L2.6,-10.4 L-6.2,5 L7.2,5"/></g><circle cx="1271.4" cy="793.9" r="13.8" fill="none" stroke="#000" stroke-width="2.2"/><g transform="translate(1271.4,793.9)" fill="none" stroke="#000" stroke-width="2.9" stroke-linejoin="miter" stroke-linecap="butt"><path d="M-5.9,-8.4 H2.3 C4.6,-8.4 5.4,-6.8 5.4,-4.9 C5.4,-2.8 4.2,-1.2 1.8,-1.2 H-5.9 Z M1.8,-1.2 C4.8,-1.2 6.3,0.6 6.3,3.6 C6.3,6.6 4.6,8.5 1.6,8.5 H-5.9 V-8.4"/></g>
<text transform="scale(0.7600,1)" x="131.55" y="410.58" font-size="22.39" letter-spacing="2.903" fill="#000" stroke="#000" stroke-width="0.5">17410B</text>
<text transform="scale(0.7600,1)" x="495.80" y="472.66" font-size="23.94" letter-spacing="2.379" fill="#000" stroke="#000" stroke-width="0.5">17410</text>
<text transform="scale(0.7600,1)" x="147.21" y="615.68" font-size="22.39" letter-spacing="3.674" fill="#000" stroke="#000" stroke-width="0.5">17410A</text>
<text transform="scale(0.7600,1)" x="625.78" y="580.86" font-size="24.23" letter-spacing="1.340" fill="#00307f" stroke="#00307f" stroke-width="0.5">17451</text>
<text transform="scale(0.7600,1)" x="873.86" y="293.51" font-size="18.59" letter-spacing="2.519" fill="#000" stroke="#000" stroke-width="0.5">90901–05026 (2)</text>
<text transform="scale(0.7600,1)" x="742.59" y="339.42" font-size="17.61" letter-spacing="2.749" fill="#000" stroke="#000" stroke-width="0.5">90501–35028 (2)</text>
<text transform="scale(0.7600,1)" x="1060.24" y="491.58" font-size="22.39" letter-spacing="3.779" fill="#000" stroke="#000" stroke-width="0.5">17420</text>
<text transform="scale(0.7600,1)" x="1499.61" y="318.76" font-size="24.08" letter-spacing="1.951" fill="#000" stroke="#000" stroke-width="0.5">17420X</text>
<text transform="scale(0.7600,1)" x="1454.76" y="109.58" font-size="22.25" letter-spacing="3.011" fill="#000" stroke="#000" stroke-width="0.5">KZJ95</text>
<text transform="scale(0.7600,1)" x="1375.19" y="141.92" font-size="18.31" letter-spacing="2.417" fill="#000" stroke="#000" stroke-width="0.5">90105–10388 (2)</text>
<text transform="scale(0.7600,1)" x="1636.47" y="286.66" font-size="23.80" letter-spacing="2.835" fill="#000" stroke="#000" stroke-width="0.5">17430</text>
<text transform="scale(0.7600,1)" x="1577.26" y="383.58" font-size="22.25" letter-spacing="2.705" fill="#000" stroke="#000" stroke-width="0.5">KZJ90</text>
<text transform="scale(0.7600,1)" x="1500.17" y="435.31" font-size="18.87" letter-spacing="2.199" fill="#000" stroke="#000" stroke-width="0.5">90105–10388 (2)</text>
<text transform="scale(0.7600,1)" x="1656.27" y="606.67" font-size="22.68" letter-spacing="3.294" fill="#000" stroke="#000" stroke-width="0.5">17430</text>
<text transform="scale(0.7600,1)" x="440.41" y="819.66" font-size="23.94" letter-spacing="1.955" fill="#000" stroke="#000" stroke-width="0.5">17572B</text>
<text transform="scale(0.7600,1)" x="414.43" y="893.67" font-size="22.68" letter-spacing="3.557" fill="#000" stroke="#000" stroke-width="0.5">17562</text>
<text transform="scale(0.7600,1)" x="560.58" y="962.82" font-size="18.31" letter-spacing="2.273" fill="#000" stroke="#000" stroke-width="0.5">90119–08A30 (2)</text>
<text transform="scale(0.7600,1)" x="833.83" y="955.66" font-size="23.94" letter-spacing="1.907" fill="#000" stroke="#000" stroke-width="0.5">17563A</text>
<text transform="scale(0.7600,1)" x="993.12" y="1029.67" font-size="22.54" letter-spacing="2.868" fill="#000" stroke="#000" stroke-width="0.5">17563A</text>
<text transform="scale(0.7600,1)" x="1344.35" y="997.66" font-size="23.94" letter-spacing="1.907" fill="#000" stroke="#000" stroke-width="0.5">17565A</text>
<text transform="scale(0.7600,1)" x="1746.88" y="799.21" font-size="18.73" letter-spacing="1.939" fill="#000" stroke="#000" stroke-width="0.5">90119–08A30 (2)</text>
<text transform="scale(0.7600,1)" x="1678.56" y="1025.56" font-size="23.94" letter-spacing="2.385" fill="#000" stroke="#000" stroke-width="0.5">17575</text>
<text transform="scale(0.7600,1)" x="1849.62" y="993.66" font-size="23.80" letter-spacing="2.003" fill="#000" stroke="#000" stroke-width="0.5">17565A</text>
<text transform="scale(0.7600,1)" x="1964.35" y="1096.76" font-size="23.94" letter-spacing="2.458" fill="#000" stroke="#000" stroke-width="0.5">170002</text>
</svg>
</body></html>
